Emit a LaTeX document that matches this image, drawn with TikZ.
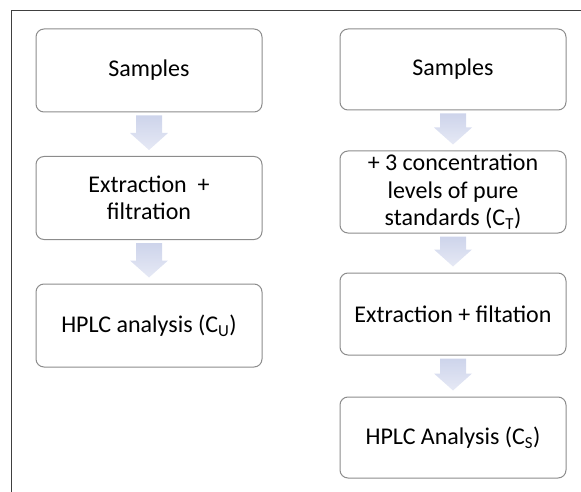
\documentclass[tikz,border=0pt]{standalone}
\usepackage{fontspec}
\setmainfont{Carlito}
\usepackage{tikz}
\usetikzlibrary{calc}

\definecolor{boxgray}{RGB}{140,140,140}
\definecolor{framegray}{RGB}{64,64,64}
\definecolor{arrowtop}{RGB}{203,210,234}
\definecolor{arrowbot}{RGB}{230,233,245}

\tikzset{
  stepbox/.style={rectangle, rounded corners=8pt, draw=boxgray, line width=1pt,
    minimum width=226pt, minimum height=83pt, align=center,
    font=\fontsize{24}{27.5}\selectfont},
  blockarrow/.style={draw=none, top color=arrowtop, bottom color=arrowbot,
    to path={let \p1=(\tikztostart), \p2=(\tikztotarget) in
      (\x1-13pt,\y1-3pt) -- (\x1+13pt,\y1-3pt) -- (\x1+13pt,\y2+23pt)
      -- (\x1+19pt,\y2+23pt) -- (\x1,\y2+6pt) -- (\x1-19pt,\y2+23pt)
      -- (\x1-13pt,\y2+23pt) -- cycle}}
}

\begin{document}
\begin{tikzpicture}[x=1pt, y=-1pt]
        \useasboundingbox (0,0) rectangle (581,492);
        % Frame
        \draw[framegray, line width=1.8pt] (11.5,492) -- (11.5,10.5) -- (581,10.5);

        % Left column
        \node[stepbox] (s1) at (149,70.5) {Samples};
        \node[stepbox] (e1) at (149,198) {Extraction~ +\\filtration};
        \node[stepbox] (h1) at (149,325.5) {HPLC analysis (C\textsubscript{U})};

        % Right column
        \node[stepbox, minimum height=81pt] (s2) at (453,69.5) {Samples};
        \node[stepbox, minimum height=82pt, inner sep=1pt] (c2) at (453,192) {+ 3 concentration\\levels of pure\\standards (C\textsubscript{T})};
        \node[stepbox, minimum height=82pt] (e2) at (453,314) {Extraction + filtation};
        \node[stepbox, minimum height=81pt] (h2) at (453,437.5) {HPLC Analysis (C\textsubscript{S})};

        % Block arrows
        \path[blockarrow] (s1.south) to (e1.north);
        \path[blockarrow] (e1.south) to (h1.north);
        \path[blockarrow] (s2.south) to (c2.north);
        \path[blockarrow] (c2.south) to (e2.north);
        \path[blockarrow] (e2.south) to (h2.north);
\end{tikzpicture}
\end{document}
